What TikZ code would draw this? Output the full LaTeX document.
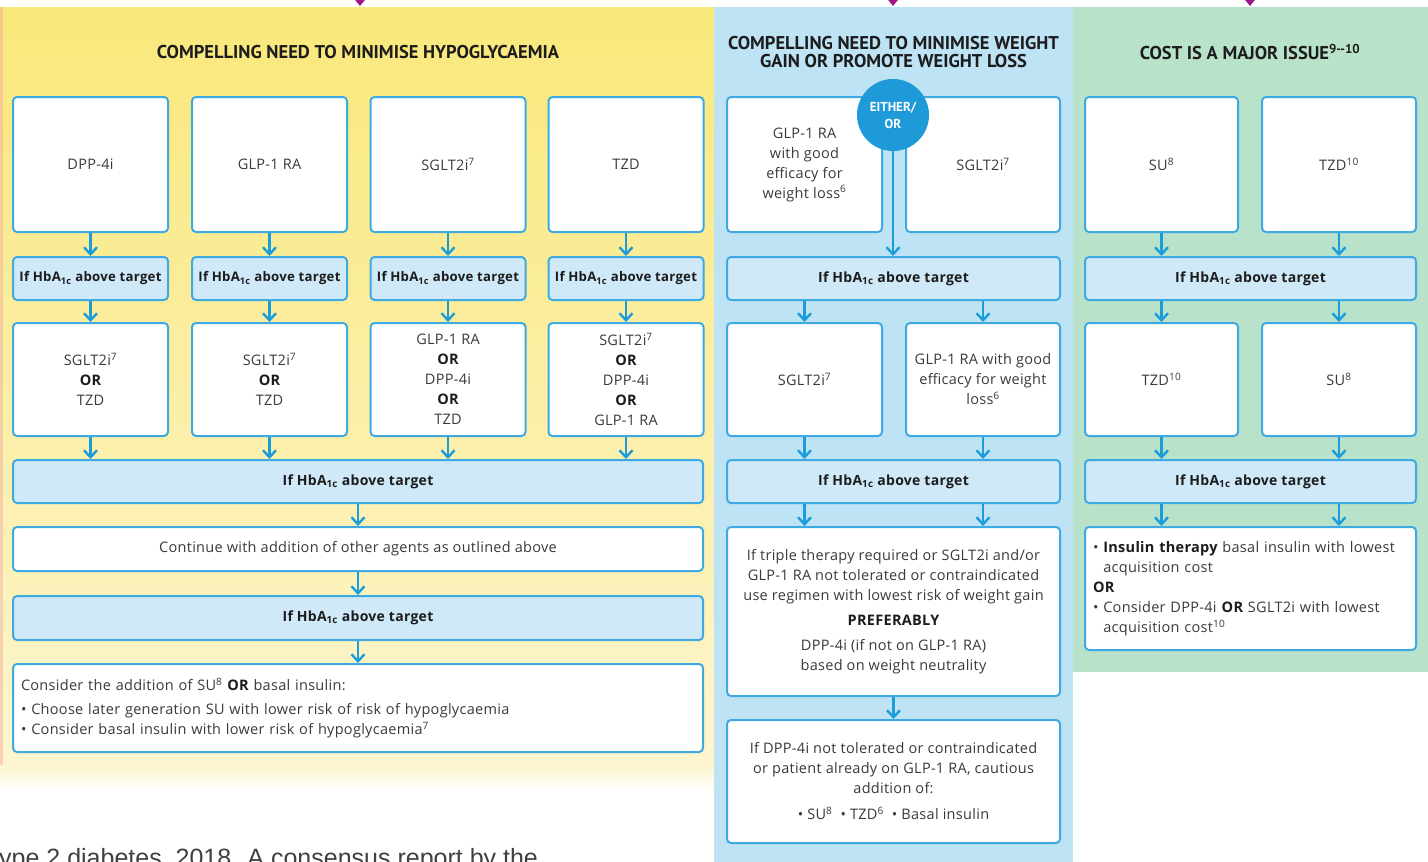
\documentclass[tikz,border=0pt]{standalone}
\usepackage{fontspec}
\setmainfont{Open Sans}[LetterSpace=2]
\newfontfamily\headfont{PT Sans}
\newfontfamily\citefont{Liberation Sans}
\usetikzlibrary{arrows.meta}

\definecolor{yelTop}{HTML}{F9E87A}
\definecolor{yelBot}{HTML}{FDF5CF}
\definecolor{pinkEdge}{HTML}{F2A79E}
\definecolor{bluePanel}{HTML}{BDE3F4}
\definecolor{greenPanel}{HTML}{B9E2CB}
\definecolor{bord}{HTML}{3FAAE1}
\definecolor{hbfill}{HTML}{CFE9F8}
\definecolor{arrc}{HTML}{1B9DDC}
\definecolor{circfill}{HTML}{1E9AD9}
\definecolor{magenta2}{HTML}{A0168A}
\definecolor{txt}{HTML}{3A3A3A}
\definecolor{txtb}{HTML}{1C1C1C}

\newcommand{\hbtext}{If HbA\textsubscript{1c} above target}
\newcommand{\orw}{\textbf{\color{txtb}OR}}

\begin{document}
\begin{tikzpicture}[x=1pt,y=-1pt,
  box/.style={draw=bord, line width=2pt, rounded corners=4pt, fill=white,
    align=center, text=txt, inner sep=3pt, font=\fontsize{14.5}{20}\selectfont},
  hbbox/.style={box, fill=hbfill, text=txtb, font=\bfseries\fontsize{14}{20}\selectfont},
  smallhb/.style={hbbox, minimum width=155, minimum height=43, font=\bfseries\fontsize{13.2}{20}\selectfont},
  topbox/.style={box, minimum width=155, minimum height=135},
  midbox/.style={box, minimum width=155, minimum height=113},
  head/.style={font=\headfont\bfseries\fontsize{18.5}{18}\selectfont, text=txtb, align=center},
  flow/.style={draw=arrc, line width=2.4pt, -{Straight Barb[length=7pt,width=13pt,line width=2.4pt]}},
  magflow/.style={draw=magenta2, line width=2pt, -{Triangle[length=7pt,width=11pt]}},
  either/.style={circle, fill=circfill, minimum size=72, text=white, align=center,
    font=\headfont\bfseries\fontsize{13}{17}\selectfont, inner sep=0pt}
]
\useasboundingbox (0,0) rectangle (1428,862);
\clip (0,0) rectangle (1428,862);

% panels
\fill[white] (0,0) rectangle (1428,862);
\shade[top color=yelTop, bottom color=yelBot] (0,7) rectangle (714,765);
\shade[top color=yelBot, bottom color=white] (0,765) rectangle (714,792);
\fill[pinkEdge, opacity=0.45] (0,7) rectangle (3,765);
\fill[bluePanel] (714,7) rectangle (1073,862);
\fill[greenPanel] (1073,7) rectangle (1428,672);

% incoming arrows from above
\coordinate (m1a) at (360,-10); \coordinate (m1b) at (360,6);
\coordinate (m2a) at (893,-10); \coordinate (m2b) at (893,6);
\coordinate (m3a) at (1250,-10); \coordinate (m3b) at (1250,6);
\draw[magflow] (m1a) -- (m1b);
\draw[magflow] (m2a) -- (m2b);
\draw[magflow] (m3a) -- (m3b);

% ---------- hypoglycaemia column ----------
\node[head] (yhead) at (358,52) {COMPELLING NEED TO MINIMISE HYPOGLYCAEMIA};
\node[topbox] (y1a) at (90.5,164.5) {DPP-4i};
\node[topbox] (y1b) at (269.5,164.5) {GLP-1 RA};
\node[topbox] (y1c) at (448,164.5) {SGLT2i\textsuperscript{7}};
\node[topbox] (y1d) at (626,164.5) {TZD};
\node[smallhb] (y2a) at (90.5,278.5) {\hbtext};
\node[smallhb] (y2b) at (269.5,278.5) {\hbtext};
\node[smallhb] (y2c) at (448,278.5) {\hbtext};
\node[smallhb] (y2d) at (626,278.5) {\hbtext};
\node[midbox] (y3a) at (90.5,379.5) {SGLT2i\textsuperscript{7}\\\orw\\TZD};
\node[midbox] (y3b) at (269.5,379.5) {SGLT2i\textsuperscript{7}\\\orw\\TZD};
\node[midbox] (y3c) at (448,379.5) {GLP-1 RA\\\orw\\DPP-4i\\\orw\\TZD};
\node[midbox] (y3d) at (626,379.5) {SGLT2i\textsuperscript{7}\\\orw\\DPP-4i\\\orw\\GLP-1 RA};
\node[hbbox, minimum width=690, minimum height=43] (yh1) at (358,481.5) {\hbtext};
\node[box, minimum width=690, minimum height=44] (ycont) at (358,549) {Continue with addition of other agents as outlined above};
\node[hbbox, minimum width=690, minimum height=44] (yh2) at (358,618) {\hbtext};
\node[box, minimum height=88, text width=674, inner xsep=8pt, align=left] (yfin) at (358,708)
  {Consider the addition of SU\textsuperscript{8} \orw{} basal insulin:\\[4pt]
   \textbullet\ Choose later generation SU with lower risk of risk of hypoglycaemia\\
   \textbullet\ Consider basal insulin with lower risk of hypoglycaemia\textsuperscript{7}};

\foreach \c in {a,b,c,d}{
  \draw[flow] (y1\c) -- (y2\c);
  \draw[flow] (y2\c) -- (y3\c);
  \draw[flow] (y3\c.south) -- (yh1.north -| y3\c.south);
}
\draw[flow] (yh1) -- (ycont);
\draw[flow] (ycont) -- (yh2);
\draw[flow] (yh2) -- (yfin);

% ---------- weight column ----------
\node[head] (bhead) at (893.5,52) {COMPELLING NEED TO MINIMISE WEIGHT\\GAIN OR PROMOTE WEIGHT LOSS};
\node[topbox] (b1a) at (804.5,164.5) {GLP-1 RA\\with good\\efficacy for\\weight loss\textsuperscript{6}};
\node[topbox, minimum width=154] (b1b) at (983,164.5) {SGLT2i\textsuperscript{7}};
\node[either] (beither) at (893,115) {EITHER/\\OR};
\node[hbbox, minimum width=333, minimum height=43] (bh1) at (893.5,278.5) {\hbtext};
\node[midbox] (b3a) at (804.5,379.5) {SGLT2i\textsuperscript{7}};
\node[midbox, minimum width=154] (b3b) at (983,379.5) {GLP-1 RA with good\\efficacy for weight\\loss\textsuperscript{6}};
\node[hbbox, minimum width=333, minimum height=43] (bh2) at (893.5,481.5) {\hbtext};
\node[box, minimum width=333, minimum height=169] (bbig) at (893.5,611.5)
  {If triple therapy required or SGLT2i and/or\\
   GLP-1 RA not tolerated or contraindicated\\
   use regimen with lowest risk of weight gain\\[5pt]
   {\bfseries\color{txtb}PREFERABLY}\\[5pt]
   DPP-4i (if not on GLP-1 RA)\\
   based on weight neutrality};
\node[box, minimum width=333, minimum height=123] (blast) at (893.5,781.5)
  {If DPP-4i not tolerated or contraindicated\\
   or patient already on GLP-1 RA, cautious\\
   addition of:\\[6pt]
   \textbullet\ SU\textsuperscript{8} \ \textbullet\ TZD\textsuperscript{6} \ \textbullet\ Basal insulin};

\draw[flow] (beither.south) -- (beither.south |- bh1.north);
\foreach \c in {a,b}{
  \draw[flow] (bh1.south -| b3\c) -- (b3\c.north);
  \draw[flow] (b3\c.south) -- (bh2.north -| b3\c.south);
  \draw[flow] (bh2.south -| b3\c) -- (bbig.north -| b3\c);
}
\draw[flow] (bbig) -- (blast);

% ---------- cost column ----------
\node[head] (ghead) at (1250,52) {COST IS A MAJOR ISSUE\textsuperscript{9--10}};
\node[topbox, minimum width=153] (g1a) at (1161.5,164.5) {SU\textsuperscript{8}};
\node[topbox, minimum width=154] (g1b) at (1339,164.5) {TZD\textsuperscript{10}};
\node[hbbox, minimum width=331, minimum height=43] (gh1) at (1250.5,278.5) {\hbtext};
\node[midbox, minimum width=153] (g3a) at (1161.5,379.5) {TZD\textsuperscript{10}};
\node[midbox, minimum width=154] (g3b) at (1339,379.5) {SU\textsuperscript{8}};
\node[hbbox, minimum width=331, minimum height=43] (gh2) at (1250.5,481.5) {\hbtext};
\node[box, minimum height=123, text width=315, inner xsep=8pt, align=left] (gfin) at (1250.5,588.5)
  {\textbullet\ {\bfseries\color{txtb}Insulin therapy} basal insulin with lowest\\
   \hphantom{\textbullet\ }acquisition cost\\
   \orw\\
   \textbullet\ Consider DPP-4i \orw{} SGLT2i with lowest\\
   \hphantom{\textbullet\ }acquisition cost\textsuperscript{10}};

\foreach \c in {a,b}{
  \draw[flow] (g1\c.south) -- (gh1.north -| g1\c.south);
  \draw[flow] (gh1.south -| g3\c) -- (g3\c.north);
  \draw[flow] (g3\c.south) -- (gh2.north -| g3\c.south);
  \draw[flow] (gh2.south -| g3\c) -- (gfin.north -| g3\c);
}

% running text below
\node[anchor=base west, inner sep=0pt, font=\citefont\fontsize{25}{25}\selectfont, text=black!75]
  (cite) at (-1,866) {ype 2 diabetes, 2018. A consensus report by the};
\end{tikzpicture}
\end{document}
